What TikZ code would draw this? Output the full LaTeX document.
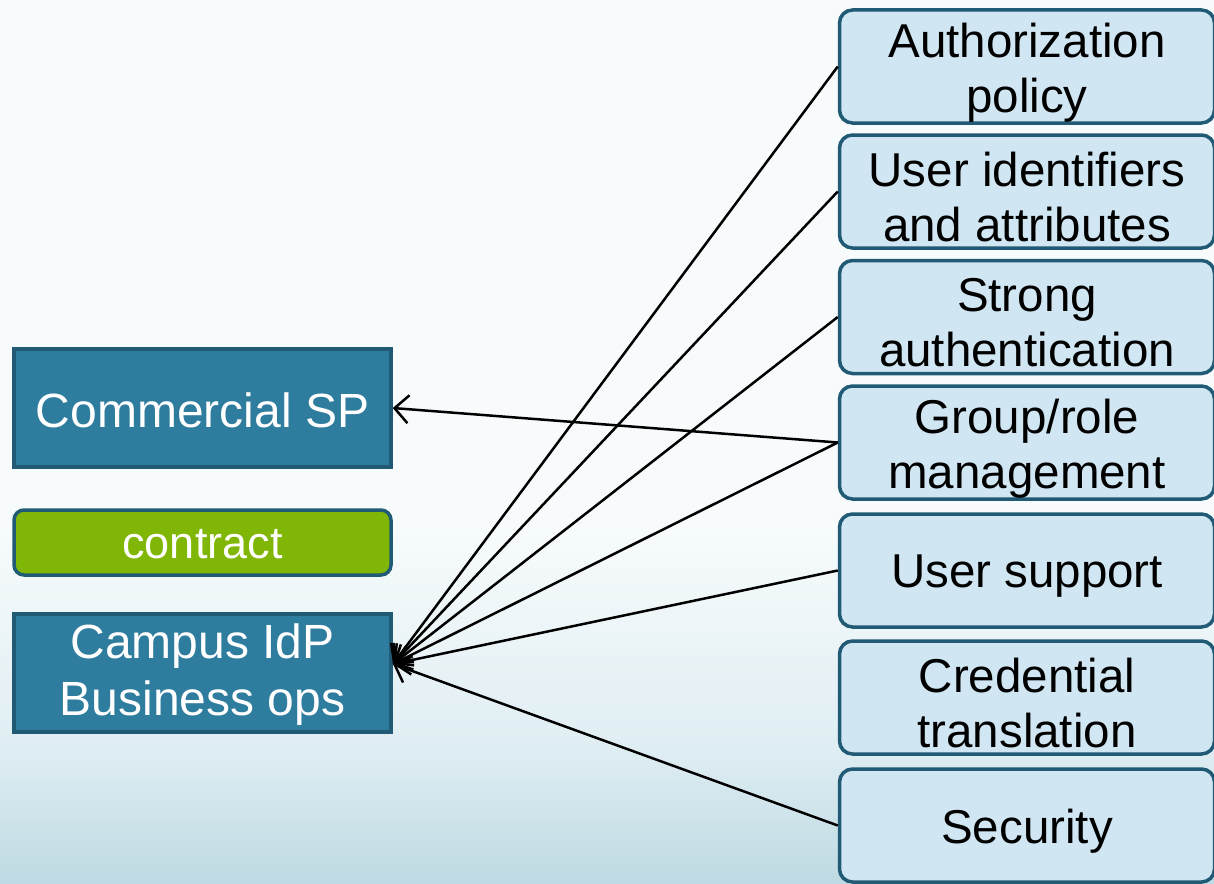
\documentclass[tikz,border=0pt]{standalone}
\usepackage{fontspec}
\setmainfont{Liberation Sans}
\usetikzlibrary{arrows.meta}
\definecolor{boxteal}{RGB}{46,124,158}
\definecolor{boxedge}{RGB}{33,90,116}
\definecolor{boxlight}{RGB}{208,230,242}
\definecolor{boxgreen}{RGB}{128,183,7}
\definecolor{bgbot}{RGB}{190,218,227}
\definecolor{bgmid}{RGB}{224,238,243}
\definecolor{bgtop}{RGB}{247,251,252}
\pgfdeclareverticalshading{bgshade}{100bp}{color(0bp)=(bgbot); color(25bp)=(bgbot); color(33bp)=(bgmid); color(45bp)=(bgtop); color(100bp)=(bgtop)}
\newcommand{\dn}[1]{\raisebox{-6pt}[\height][\depth]{#1}}
\begin{document}
\begin{tikzpicture}[x=1pt,y=-1pt,
  leftbox/.style={draw=boxedge, fill=boxteal, line width=3.5pt, minimum width=377pt, minimum height=118pt, inner sep=0pt, text=white, font=\fontsize{48}{57}\selectfont, align=center},
  greenbox/.style={draw=boxedge, fill=boxgreen, line width=3.5pt, rounded corners=10pt, minimum width=377pt, minimum height=65pt, inner sep=0pt, text=white, font=\fontsize{45}{52}\selectfont, align=center},
  rightbox/.style={draw=boxedge, fill=boxlight, line width=3.5pt, rounded corners=13pt, minimum width=375pt, minimum height=113pt, inner sep=0pt, text=black, font=\fontsize{47.5}{55}\selectfont, align=center},
  arr/.style={-{Straight Barb[length=14pt,width=28pt]}, line width=2.5pt, black}]
\useasboundingbox (0,0) rectangle (1214,883);
\clip (0,0) rectangle (1214,883);
\shade[shading=bgshade] (0,883) rectangle (1214,0);
% left column
\node[leftbox] (csp) at (202.5,408) {\raisebox{-2pt}[\height][\depth]{Commercial SP}};
\node[greenbox] (contract) at (202.5,542.5) {\raisebox{-2pt}[\height][\depth]{contract}};
\node[leftbox] (idp) at (202.5,673) {\raisebox{-2pt}[\height][\depth]{Campus IdP}\\\raisebox{-2pt}[\height][\depth]{Business ops}};
\coordinate (idpin) at (393,664);
% right column
\node[rightbox] (b1) at (1027,66.5) {\dn{Authorization}\\\dn{policy}};
\node[rightbox] (b2) at (1027,191.5) {\dn{User identifiers}\\\dn{and attributes}};
\node[rightbox] (b3) at (1027,317) {\dn{Strong}\\\dn{authentication}};
\node[rightbox] (b4) at (1027,442.5) {\dn{Group/role}\\\dn{management}};
\node[rightbox] (b5) at (1027,570.5) {\dn{User support}};
\node[rightbox] (b6) at (1027,697.5) {\dn{Credential}\\\dn{translation}};
\node[rightbox] (b7) at (1027,825.5) {\dn{Security}};
% connectors
\draw[arr] (b4.west) -- (csp.east);
\draw[arr] (b1.west) -- (idpin);
\draw[arr] (b2.west) -- (idpin);
\draw[arr] (b3.west) -- (idpin);
\draw[arr] (b4.west) -- (idpin);
\draw[arr] (b5.west) -- (idpin);
\draw[arr] (b7.west) -- (idpin);
\end{tikzpicture}
\end{document}
